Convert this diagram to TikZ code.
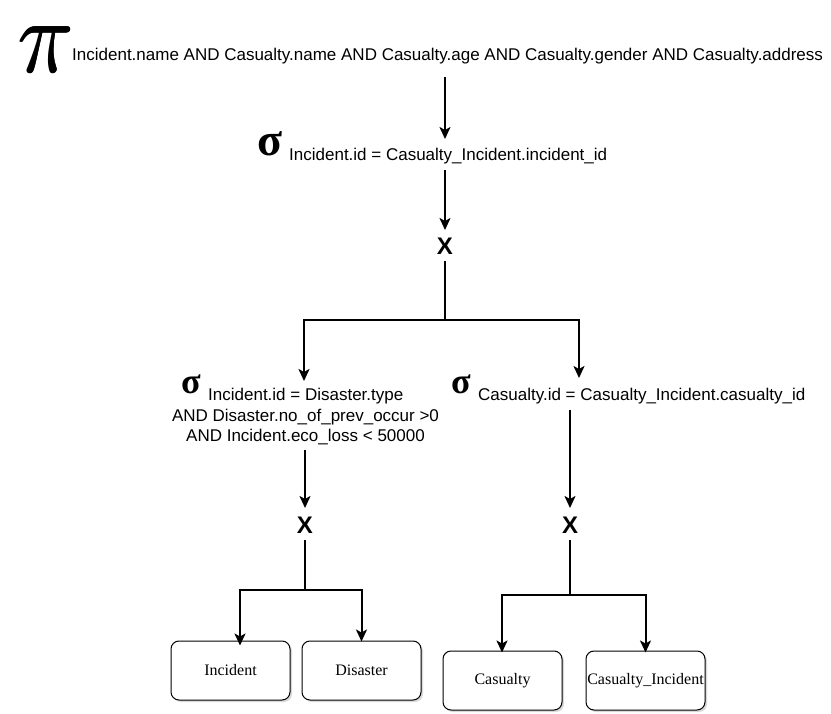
\documentclass[tikz,border=0pt]{standalone}
\usepackage{fontspec}
\setmainfont{Liberation Serif}
\setsansfont{Liberation Sans}
\usetikzlibrary{arrows.meta,shadows}
\newcommand{\mypiglyph}{\scalebox{9.2}[10.6]{$\pi$}}
\begin{document}
\begin{tikzpicture}[x=1pt,y=-1pt,
  txt/.style={font=\sffamily\fontsize{17}{20}\selectfont,inner sep=0pt},
  bigpi/.style={inner sep=0pt},
  sigbig/.style={font=\bfseries\fontsize{46}{46}\selectfont,inner sep=0pt},
  sigsmall/.style={font=\bfseries\fontsize{36}{36}\selectfont,inner sep=0pt},
  cross/.style={font=\sffamily\bfseries\fontsize{24}{24}\selectfont,inner sep=0pt},
  rel/.style={draw,line width=1pt,rounded corners=8pt,minimum width=119pt,minimum height=59pt,
    font=\fontsize{16}{18}\selectfont,inner sep=0pt,fill=white,
    drop shadow={shadow xshift=2pt,shadow yshift=-2pt,fill=black!25,opacity=0.6}},
  arr/.style={line width=2pt,-{Stealth[length=12pt,width=11pt,inset=3pt]}},
  ln/.style={line width=2pt}]
\useasboundingbox (0,0) rectangle (831,714);
% top projection
\node[bigpi,anchor=base west] (pi) at (17,73) {\makebox[0pt][l]{\mypiglyph}\makebox[0pt][l]{\raisebox{0.7pt}{\hspace{0.8pt}\mypiglyph}}\hspace{1.6pt}\mypiglyph};
\node[txt,anchor=base west] (proj) at (72,61) {Incident.name AND Casualty.name AND Casualty.age AND Casualty.gender AND Casualty.address};
% selection 1
\node[sigbig,anchor=base west] (s1) at (257,156) {σ};
\node[txt,anchor=base west] (sel1) at (289,161) {Incident.id = Casualty\_Incident.incident\_id};
% cross 1
\node[cross] (x1) at (445,246) {X};
% left selection
\node[sigsmall,anchor=base west] (s2) at (181,394) {σ};
\node[txt,anchor=base west] (selL) at (208,401) {Incident.id = Disaster.type};
\node[txt,anchor=base] (selL2) at (305.5,421) {AND Disaster.no\_of\_prev\_occur >0};
\node[txt,anchor=base] (selL3) at (305.5,441) {AND Incident.eco\_loss < 50000};
% right selection
\node[sigsmall,anchor=base west] (s3) at (451,394) {σ};
\node[txt,anchor=base west] (selR) at (478,401) {Casualty.id = Casualty\_Incident.casualty\_id};
% crosses
\node[cross] (xL) at (305,525) {X};
\node[cross] (xR) at (570,525) {X};
% relations
\node[rel] (inc) at (230.5,670.5) {Incident};
\node[rel] (dis) at (361.5,670.5) {Disaster};
\node[rel] (cas) at (502.5,680.5) {Casualty};
\node[rel] (ci) at (645.5,680.5) {Casualty\_Incident};
% junction coordinates
\coordinate (a1s) at (445,77);
\coordinate (a1e) at (445,139);
\coordinate (a2s) at (445,170);
\coordinate (a2e) at (445,230);
\coordinate (j1) at (445,320);
\coordinate (tL) at (304,381);
\coordinate (tR) at (579,378);
\coordinate (aLs) at (305,450);
\coordinate (aLe) at (305,508);
\coordinate (aRs) at (570,410);
\coordinate (aRe) at (570,508);
\coordinate (jL) at (305,590);
\coordinate (jR) at (570,595);
% connectors
\draw[arr] (a1s) -- (a1e);
\draw[arr] (a2s) -- (a2e);
\draw[ln] (x1.south) ++(0,7) -- (j1);
\draw[arr] (j1) -| (tL);
\draw[arr] (j1) -| (tR);
\draw[arr] (aLs) -- (aLe);
\draw[arr] (aRs) -- (aRe);
\draw[ln] (xL.south) ++(0,7) -- (jL);
\draw[ln] (xR.south) ++(0,7) -- (jR);
\draw[arr] (jL) -| ([yshift=-5pt]inc.north -| 240,0);
\draw[arr] (jL) -| ([yshift=-1pt]dis.north);
\draw[arr] (jR) -| ([yshift=-2pt]cas.north -| 502,0);
\draw[arr] (jR) -| ([yshift=-2pt]ci.north);
\end{tikzpicture}
\end{document}
